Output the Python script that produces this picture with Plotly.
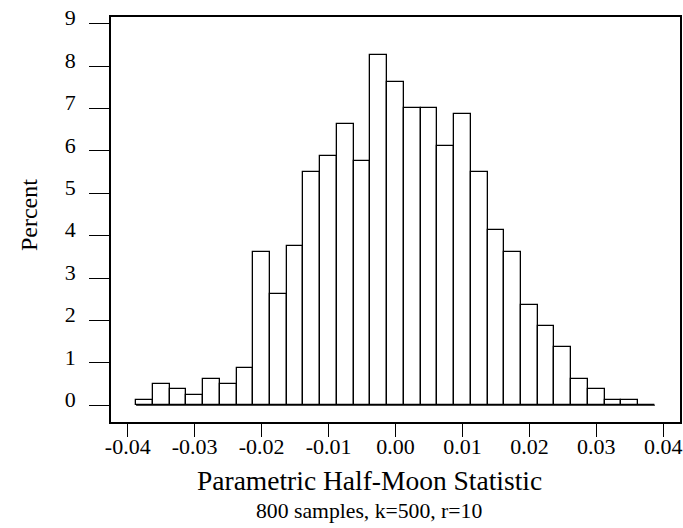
import plotly.graph_objects as go

# Histogram of the parametric half-moon statistic, 800 samples (k=500, r=10)
bin_width = 0.0025
bin_centers = [round(-0.0375 + bin_width * i, 5) for i in range(31)]
percent = [
    0.125, 0.5, 0.375, 0.25, 0.625, 0.5, 0.875, 3.625, 2.625, 3.75,
    5.5, 5.875, 6.625, 5.75, 8.25, 7.625, 7.0, 7.0, 6.125, 6.875,
    5.5, 4.125, 3.625, 2.375, 1.875, 1.375, 0.625, 0.375, 0.125, 0.125,
    0.0,
]
x_ticks = [-0.04, -0.03, -0.02, -0.01, 0.0, 0.01, 0.02, 0.03, 0.04]
x_tick_text = ["-0.04", "-0.03", "-0.02", "-0.01", "0.00", "0.01", "0.02", "0.03", "0.04"]
y_ticks = [0, 1, 2, 3, 4, 5, 6, 7, 8, 9]

FONT = "Liberation Serif, Times New Roman, serif"

fig = go.Figure()
fig.add_trace(go.Bar(
    x=bin_centers,
    y=percent,
    width=bin_width,
    marker=dict(color="white", line=dict(color="black", width=1.3)),
    showlegend=False,
    hoverinfo="skip",
))

# baseline under the bins
lo = bin_centers[0] - bin_width / 2
hi = bin_centers[-1] + bin_width / 2
fig.add_trace(go.Scatter(
    x=[lo, hi], y=[0, 0], mode="lines",
    line=dict(color="black", width=1.1),
    showlegend=False, hoverinfo="skip",
))

fig.update_layout(
    width=683, height=528,
    margin=dict(l=111, r=1, t=17, b=106),
    paper_bgcolor="white", plot_bgcolor="white",
    font=dict(family=FONT, color="black", size=22),
    bargap=0,
)
fig.update_xaxes(
    range=[-0.0425, 0.0425],
    tickvals=x_ticks, ticktext=x_tick_text,
    ticks="outside", ticklen=13, tickwidth=1.4, tickcolor="black",
    showline=True, mirror=True, linecolor="black", linewidth=1.5,
    showgrid=False, zeroline=False,
    ticklabelstandoff=-9,
    tickfont=dict(family=FONT, size=22, color="black"),
)
fig.update_yaxes(
    range=[-0.394, 9.157],
    tickvals=y_ticks,
    ticks="outside", ticklen=20, tickwidth=1.4, tickcolor="black",
    showline=True, mirror=True, linecolor="black", linewidth=1.5,
    showgrid=False, zeroline=False,
    ticklabelstandoff=9, ticklabelshift=-6,
    tickfont=dict(family=FONT, size=22, color="black"),
)

fig.add_annotation(
    text="Percent", xref="paper", yref="paper", x=-0.143, y=0.51,
    textangle=-90, showarrow=False, xanchor="center", yanchor="middle",
    font=dict(family=FONT, size=24, color="black"),
)
fig.add_annotation(
    text="Parametric Half-Moon Statistic", xref="paper", yref="paper",
    x=0.454, y=-0.1437, showarrow=False, xanchor="center", yanchor="middle",
    font=dict(family=FONT, size=27.5, color="black"),
)
fig.add_annotation(
    text="800 samples, k=500, r=10", xref="paper", yref="paper",
    x=0.454, y=-0.2205, showarrow=False, xanchor="center", yanchor="middle",
    font=dict(family=FONT, size=21.7, color="black"),
)

fig.write_html("out.html")
